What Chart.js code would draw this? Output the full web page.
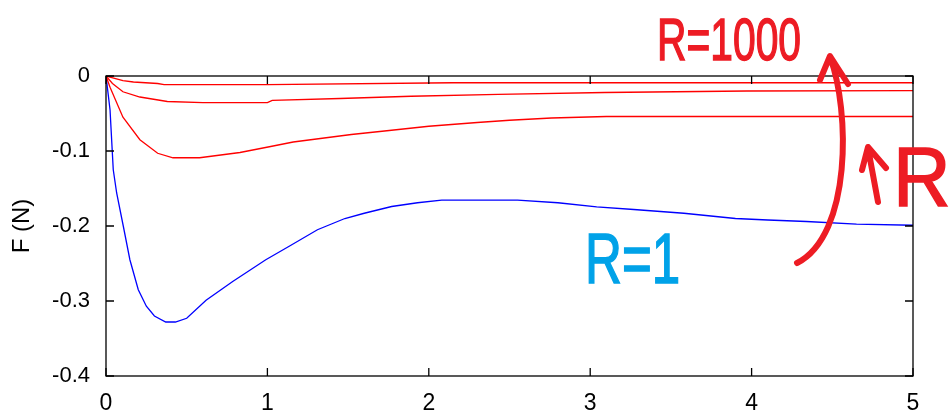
<!DOCTYPE html>
<html>
<head>
<meta charset="utf-8">
<script src="https://cdn.jsdelivr.net/npm/chart.js@4"></script>
<style>
  html, body { margin: 0; padding: 0; background: #fff; }
  canvas { display: block; }
</style>
</head>
<body>
<canvas id="forceChart" width="950" height="412"></canvas>
<script>
// R = 1 (blue)
var xBlue = [0, 0.025, 0.045, 0.066, 0.107, 0.148, 0.2, 0.25, 0.3, 0.37, 0.43, 0.5, 0.62, 0.785, 0.99, 1.135, 1.31, 1.48, 1.6, 1.77, 1.93, 2.08, 2.3, 2.55, 2.8, 3.04, 3.27, 3.58, 3.9, 4.1, 4.34, 4.65, 5.0];
var yBlue = [0, -0.045, -0.125, -0.156, -0.2, -0.245, -0.285, -0.307, -0.32, -0.328, -0.328, -0.323, -0.299, -0.274, -0.245, -0.227, -0.205, -0.19, -0.183, -0.174, -0.169, -0.1655, -0.1655, -0.1655, -0.169, -0.1745, -0.178, -0.183, -0.19, -0.192, -0.194, -0.1975, -0.199];

// red curves, larger R upwards
var xRedA = [0, 0.025, 0.105, 0.21, 0.32, 0.415, 0.58, 0.83, 1.02, 1.16, 1.34, 1.52, 1.74, 2.0, 2.3, 2.5, 2.76, 3.1, 5.0];
var yRedA = [0, -0.015, -0.055, -0.085, -0.103, -0.109, -0.109, -0.102, -0.094, -0.088, -0.083, -0.078, -0.073, -0.067, -0.062, -0.059, -0.056, -0.054, -0.054];

var xRedB = [0, 0.04, 0.105, 0.21, 0.38, 0.6, 1.0, 1.03, 1.45, 1.89, 2.43, 3.09, 3.97, 5.0];
var yRedB = [0, -0.01, -0.021, -0.028, -0.034, -0.0355, -0.0355, -0.0324, -0.030, -0.027, -0.0244, -0.022, -0.02, -0.0195];

var xRedC = [0, 0.105, 0.17, 0.32, 0.36, 1.0, 2.15, 5.0];
var yRedC = [0, -0.0063, -0.008, -0.010, -0.0115, -0.0115, -0.009, -0.009];

var xTickLabels = ["0", "1", "2", "3", "4", "5"];
var yTickLabels = ["0", "-0.1", "-0.2", "-0.3", "-0.4"];

function toPoints(xs, ys) {
    return xs.map(function (x, i) {
        return { x: x, y: ys[i] };
    });
}

function lineSet(xs, ys, color) {
    return {
        data: toPoints(xs, ys),
        borderColor: color,
        borderWidth: 1.3,
        pointRadius: 0,
        tension: 0,
        fill: false
    };
}

// box + inward ticks like matlab
var boxPlugin = {
    id: "box",
    afterDraw: function (chart) {
        var ctx = chart.ctx;
        var a = chart.chartArea;
        var sx = chart.scales.x;
        var sy = chart.scales.y;
        ctx.save();
        ctx.strokeStyle = "#000";
        ctx.lineWidth = 1.3;
        ctx.strokeRect(a.left, a.top, a.right - a.left, a.bottom - a.top);
        ctx.beginPath();
        sx.ticks.forEach(function (t) {
            var p = sx.getPixelForValue(t.value);
            ctx.moveTo(p, a.bottom);
            ctx.lineTo(p, a.bottom - 8);
            ctx.moveTo(p, a.top);
            ctx.lineTo(p, a.top + 8);
        });
        sy.ticks.forEach(function (t) {
            var p = sy.getPixelForValue(t.value);
            ctx.moveTo(a.left, p);
            ctx.lineTo(a.left + 8, p);
            ctx.moveTo(a.right, p);
            ctx.lineTo(a.right - 8, p);
        });
        ctx.stroke();
        ctx.restore();
    }
};

function squeezedText(ctx, text, x, y, size, sx, color) {
    ctx.save();
    ctx.translate(x, y);
    ctx.scale(sx, 1);
    ctx.font = size + "px 'Liberation Sans'";
    ctx.fillStyle = color;
    ctx.strokeStyle = color;
    ctx.lineWidth = 1.5;
    ctx.textBaseline = "alphabetic";
    ctx.fillText(text, 0, 0);
    ctx.strokeText(text, 0, 0);
    ctx.restore();
}

// hand written notes on top of the plot
var notesPlugin = {
    id: "notes",
    afterDraw: function (chart) {
        var ctx = chart.ctx;
        var red = "#ed1c24";
        var cyan = "#00a2e8";
        squeezedText(ctx, "R=1000", 657, 60, 60, 0.68, red);
        squeezedText(ctx, "R=1", 585, 283, 70, 0.73, cyan);
        squeezedText(ctx, "R", 893, 206, 84, 0.95, red);

        ctx.save();
        ctx.strokeStyle = red;
        ctx.lineWidth = 6;
        ctx.lineCap = "round";
        ctx.lineJoin = "round";
        // small up arrow
        ctx.beginPath();
        ctx.moveTo(878, 202);
        ctx.lineTo(868, 148);
        ctx.moveTo(862, 170);
        ctx.lineTo(868, 147);
        ctx.lineTo(886, 168);
        ctx.stroke();
        // curved arrow
        ctx.beginPath();
        ctx.moveTo(797, 263);
        ctx.bezierCurveTo(852, 235, 850, 110, 830, 57);
        ctx.moveTo(820, 80);
        ctx.lineTo(830, 56);
        ctx.lineTo(848, 84);
        ctx.stroke();
        ctx.restore();
    }
};

new Chart(document.getElementById("forceChart").getContext("2d"), {
    type: "line",
    data: {
        datasets: [
            lineSet(xRedC, yRedC, "#ff0000"),
            lineSet(xRedB, yRedB, "#ff0000"),
            lineSet(xRedA, yRedA, "#ff0000"),
            lineSet(xBlue, yBlue, "#0000ff")
        ]
    },
    options: {
        responsive: false,
        animation: false,
        devicePixelRatio: 1,
        layout: {
            padding: { left: 0, right: 37, top: 76, bottom: 0 }
        },
        plugins: {
            legend: { display: false },
            tooltip: { enabled: false }
        },
        scales: {
            x: {
                type: "linear",
                min: 0,
                max: 5,
                grid: { display: false },
                border: { display: false },
                afterFit: function (s) { s.height = 36; },
                ticks: {
                    stepSize: 1,
                    padding: 6,
                    color: "#000",
                    font: { family: "'Liberation Sans'", size: 23 },
                    callback: function (v) { return xTickLabels[Math.round(v)]; }
                }
            },
            y: {
                min: -0.4,
                max: 0,
                grid: { display: false },
                border: { display: false },
                afterFit: function (s) { s.width = 106; },
                title: {
                    display: true,
                    text: "F (N)",
                    color: "#000",
                    font: { family: "'Liberation Sans'", size: 24 },
                    padding: { top: 8, bottom: 0 }
                },
                ticks: {
                    stepSize: 0.1,
                    padding: 8,
                    color: "#000",
                    font: { family: "'Liberation Sans'", size: 22 },
                    callback: function (v) { return yTickLabels[Math.round(-v * 10)]; }
                }
            }
        }
    },
    plugins: [boxPlugin, notesPlugin]
});
</script>
</body>
</html>
